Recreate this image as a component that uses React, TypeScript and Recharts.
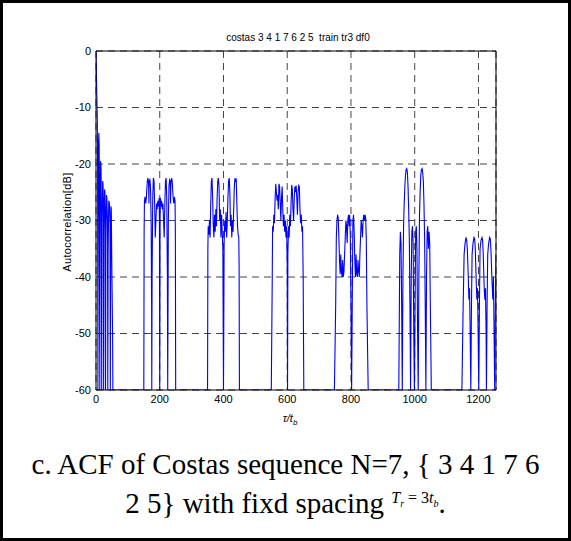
import { LineChart, Line, XAxis, YAxis, CartesianGrid, ReferenceLine } from 'recharts';

const X_MAX = 1255;
const X_TICKS = [0, 200, 400, 600, 800, 1000, 1200];
const Y_TICKS = [0, -10, -20, -30, -40, -50, -60];

// [tau/tb, dB], one array per cluster of the train
const mainLobe: [number, number][] = [
  [0, 0], [1, -3], [2, -6], [3, -9], [4, -12], [5, -20], [6, -60], [7, -30], [8, -16], [9, -14.5],
  [10, -17], [11, -40], [12, -60], [13, -28], [14, -19.5], [15, -20], [16, -21], [17, -35], [18, -60],
  [19, -30], [21, -23], [22, -23.5], [23, -26], [24, -60], [25, -32], [27, -24.5], [28, -25], [29, -28],
  [30, -60], [31, -34], [33, -25.5], [34, -26], [36, -30], [37, -60], [38, -36], [40, -26.5], [42, -27],
  [44, -30], [45, -60], [46, -36], [47, -27.5], [48, -28], [50, -40], [52, -50], [53, -60],
];

const train1: [number, number][] = [
  [150, -60], [151, -32], [152, -26.5], [154, -25.8], [156, -27], [158, -26], [161, -23], [163, -22.5],
  [165, -23.5], [166, -27], [167, -23], [169, -22.8], [171, -24], [173, -30], [174.5, -45], [175, -60],
  [176, -40], [178, -26], [180, -22.5], [182, -23], [184, -27], [186, -33], [188, -30], [190, -27],
  [192, -28], [194, -26.5], [196, -27.5], [198, -26], [199, -30], [200, -60], [201, -30], [202, -26],
  [204, -27.5], [206, -26.5], [208, -28], [210, -27], [212, -30], [214, -33], [216, -27], [218, -23],
  [220, -22.5], [222, -26], [224, -40], [225, -60], [226, -45], [227, -30], [229, -24], [231, -22.8],
  [233, -23], [234, -27], [235, -23.5], [237, -22.5], [239, -23], [242, -26], [244, -27], [246, -25.8],
  [248, -26.5], [249, -32], [250, -60],
];

const train2: [number, number][] = [
  [350, -60], [351, -35], [352, -31], [354, -32.5], [356, -30], [358, -33], [360, -27], [362, -23],
  [364, -22.5], [366, -26], [368, -31], [370, -33], [372, -29], [374, -32], [376, -28], [378, -31],
  [380, -26], [382, -23], [384, -22.5], [386, -24], [388, -30], [390, -28], [392, -33], [394, -29],
  [396, -32], [398, -35], [400, -60], [402, -34], [404, -30], [406, -32], [408, -28.5], [410, -33],
  [412, -30], [414, -26], [416, -23], [418, -22.5], [420, -25], [422, -31], [424, -29], [426, -33],
  [428, -30], [430, -32], [432, -28], [434, -24], [436, -22.5], [438, -23], [440, -22.8], [442, -27],
  [444, -31], [446, -32.5], [448, -33], [449, -38], [450, -60],
];

const train3: [number, number][] = [
  [550, -60], [553, -40], [554, -31], [556, -32], [558, -29], [560, -30.5], [562, -26], [564, -23.5],
  [566, -25], [568, -26.5], [570, -25.5], [572, -28], [574, -23.5], [576, -24], [578, -27], [580, -30],
  [582, -26], [584, -24], [586, -28], [588, -31], [590, -29], [592, -32], [594, -30], [596, -33],
  [598, -31], [600, -38], [601, -60], [602, -36], [604, -31], [606, -33], [608, -29], [610, -31],
  [612, -27], [614, -23.7], [616, -24.5], [618, -28], [620, -30], [622, -26], [624, -24], [626, -25],
  [628, -23.8], [630, -26], [632, -29], [634, -25], [636, -23.8], [638, -24], [640, -28], [642, -30.5],
  [644, -29], [646, -32], [648, -31], [650, -40], [652, -60],
];

const train4: [number, number][] = [
  [748, -60], [752, -45], [754, -33], [756, -30], [758, -29], [760, -29.5], [762, -33], [764, -37],
  [766, -39.5], [768, -36], [770, -39], [772, -40], [774, -37], [776, -40], [778, -39], [780, -36],
  [782, -33], [784, -30], [786, -31], [788, -34], [790, -30], [792, -29], [794, -31], [796, -29],
  [798, -33], [800, -45], [802, -60], [804, -45], [806, -30], [808, -29], [810, -32], [812, -37],
  [814, -40], [816, -36], [818, -39.5], [820, -40], [822, -37], [824, -39], [826, -40], [828, -36],
  [830, -33], [832, -30], [834, -31], [836, -33], [838, -30], [840, -29], [842, -30], [844, -29],
  [846, -29.5], [848, -33], [850, -45], [854, -60],
];

const train5: [number, number][] = [
  [950, -60], [953, -36], [955, -32], [957, -34], [959, -45], [961, -60], [963, -40], [965, -31],
  [967, -27], [969, -24], [971, -22], [973, -21], [975, -20.8], [977, -21.5], [979, -24], [981, -28],
  [983, -33], [985, -45], [987, -60], [989, -40], [991, -32], [993, -31], [995, -34], [997, -50],
  [999, -60], [1001, -45], [1003, -32], [1005, -31], [1007, -35], [1009, -50], [1011, -60], [1013, -40],
  [1015, -29], [1017, -25], [1019, -22], [1021, -21], [1023, -20.8], [1025, -21.5], [1027, -23],
  [1029, -27], [1031, -33], [1033, -45], [1035, -60], [1037, -40], [1039, -32], [1041, -31], [1043, -35],
  [1045, -32], [1047, -34], [1049, -45], [1052, -60],
];

const train6: [number, number][] = [
  [1148, -60], [1152, -45], [1155, -36], [1158, -34], [1161, -33], [1163, -33.5], [1165, -35],
  [1168, -40], [1170, -44], [1172, -42], [1174, -50], [1176, -60], [1178, -45], [1180, -36], [1183, -34],
  [1186, -33], [1188, -33.2], [1190, -35], [1193, -41], [1195, -44], [1197, -42], [1199, -50], [1201, -60],
  [1203, -45], [1205, -35], [1208, -33.5], [1211, -33], [1213, -33.5], [1215, -36], [1218, -42],
  [1220, -44], [1222, -42], [1224, -50], [1225, -60], [1227, -45], [1229, -36], [1232, -34], [1235, -33],
  [1237, -33.2], [1239, -35], [1242, -40], [1245, -44], [1247, -40], [1249, -50], [1251, -60],
  [1253, -45], [1255, -36],
];

const data = [mainLobe, train1, train2, train3, train4, train5, train6]
  .flat()
  .map(([t, db]) => ({ t, db }));

const axisFont = { fill: '#000', fontSize: 11, fontFamily: '"Liberation Sans", Arial, sans-serif' };

export default function App() {
  return (
    <div style={{ position: 'absolute', left: 0, top: 0, width: 571, height: 541, background: '#fff' }}>
      <LineChart
        width={571}
        height={541}
        data={data}
        margin={{ top: 51, right: 75, bottom: 121, left: 56 }}
        style={{ position: 'absolute', left: 0, top: 0 }}
      >
        <CartesianGrid stroke="#444" strokeDasharray="7 5" />
        <XAxis
          dataKey="t"
          type="number"
          domain={[0, X_MAX]}
          ticks={X_TICKS}
          interval={0}
          allowDataOverflow
          tick={axisFont}
          tickLine={false}
          tickSize={3}
          tickMargin={2}
          axisLine={{ stroke: '#000' }}
          height={30}
        />
        <YAxis
          type="number"
          domain={[-60, 0]}
          ticks={Y_TICKS}
          interval={0}
          allowDataOverflow
          tick={axisFont}
          tickLine={false}
          tickSize={3}
          tickMargin={2}
          axisLine={{ stroke: '#000' }}
          width={40}
        />
        <ReferenceLine y={0} stroke="#000" />
        <ReferenceLine x={X_MAX} stroke="#000" />
        <Line
          type="linear"
          dataKey="db"
          stroke="#0000ff"
          strokeWidth={1.1}
          dot={false}
          isAnimationActive={false}
        />
      </LineChart>

      <svg
        width={571}
        height={541}
        style={{ position: 'absolute', left: 0, top: 0, pointerEvents: 'none' }}
        fontFamily='"Liberation Sans", Arial, sans-serif'
      >
        <text x={298} y={41} textAnchor="middle" fontSize={10} style={{ whiteSpace: 'pre' }}>
          costas 3 4 1 7 6 2 5  train tr3 df0
        </text>
        <text
          x={68}
          y={222}
          textAnchor="middle"
          dominantBaseline="middle"
          fontSize={11}
          letterSpacing={0.3}
          transform="rotate(-90 68 222)"
        >
          Autocorrelation[dB]
        </text>
        <text x={290} y={422} textAnchor="middle" fontSize={11} fontStyle="italic">
          τ/t<tspan fontSize={8} dy={3}>b</tspan>
        </text>
      </svg>

      <div
        style={{
          position: 'absolute',
          left: 0,
          top: 445,
          width: 571,
          textAlign: 'center',
          fontFamily: '"Liberation Serif", "Times New Roman", serif',
          fontSize: 29,
          lineHeight: '39px',
          color: '#000',
        }}
      >
        c. ACF of Costas sequence N=7, {'{'} 3 4 1 7 6
        <br />
        2 5{'}'} with fixd spacing{' '}
        <span style={{ fontSize: 16, verticalAlign: '0.6em', lineHeight: 0 }}>
          <i>T</i>
          <sub style={{ fontSize: 10, fontStyle: 'italic' }}>r</sub> = 3<i>t</i>
          <sub style={{ fontSize: 10, fontStyle: 'italic' }}>b</sub>
        </span>
        .
      </div>

      <div
        style={{
          position: 'absolute',
          left: 0,
          top: 0,
          width: 571,
          height: 541,
          boxSizing: 'border-box',
          border: '3px solid #000',
          pointerEvents: 'none',
        }}
      />
    </div>
  );
}
